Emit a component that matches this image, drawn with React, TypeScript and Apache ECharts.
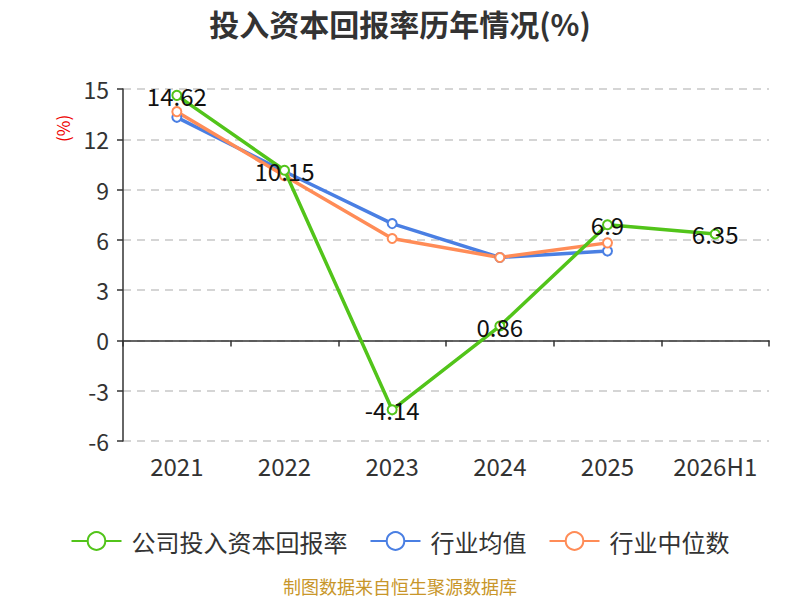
import { useEffect, useRef } from 'react';
import * as echarts from 'echarts';

const years = ['2021', '2022', '2023', '2024', '2025', '2026H1'];
const companyRoic = [14.62, 10.15, -4.14, 0.86, 6.9, 6.35];
const industryAvg = [13.31, 10.08, 6.97, 4.95, 5.33, null];
const industryMedian = [13.65, 9.82, 6.08, 4.95, 5.82, null];

const FONT = '"Noto Sans CJK SC", "Noto Sans", sans-serif';

export default function App() {
  const chartRef = useRef<HTMLDivElement>(null);

  useEffect(() => {
    if (!chartRef.current) return;
    const chart = echarts.init(chartRef.current, undefined, { renderer: 'svg' });

    const lineSeries = (name: string, data: any[], color: string, withLabel: boolean) => ({
      name,
      type: 'line',
      data,
      symbol: 'emptyCircle',
      symbolSize: 9,
      lineStyle: { width: 3.5, color },
      itemStyle: { color, borderWidth: 1.5 },
      label: withLabel
        ? { show: true, position: 'inside', color: '#111', fontSize: 24, fontFamily: FONT }
        : { show: false },
      z: withLabel ? 3 : 2,
    });

    chart.setOption({
      animation: false,
      backgroundColor: '#fff',
      textStyle: { fontFamily: FONT },
      title: {
        text: '投入资本回报率历年情况(%)',
        left: 'center',
        top: 3,
        textStyle: { fontSize: 30, fontWeight: 'bold', color: '#333', fontFamily: FONT },
      },
      legend: {
        top: 524,
        left: 'center',
        itemWidth: 50,
        itemHeight: 22,
        itemGap: 22,
        textStyle: { fontSize: 24, color: '#333', fontFamily: FONT, padding: [0, 0, 0, 5] },
        data: ['公司投入资本回报率', '行业均值', '行业中位数'],
      },
      graphic: [
        {
          type: 'text',
          left: 'center',
          top: 577,
          style: { text: '制图数据来自恒生聚源数据库', fill: '#c8962a', fontSize: 18, fontFamily: FONT },
        },
        {
          type: 'text',
          x: 54,
          y: 142,
          rotation: Math.PI / 2,
          style: { text: '(%)', fill: '#e00', fontSize: 17, fontFamily: FONT },
        },
      ],
      grid: { left: 123, right: 31, top: 89, bottom: 159 },
      xAxis: [
        {
          type: 'category',
          data: years,
          axisLine: { show: false, onZero: false },
          axisTick: { show: false },
          axisLabel: { interval: 0, fontSize: 24, color: '#333', margin: 12, fontFamily: FONT },
        },
        {
          type: 'category',
          data: years,
          position: 'bottom',
          axisLine: { show: true, onZero: true, lineStyle: { color: '#333', width: 1.5 } },
          axisTick: { show: true, interval: 0, length: 6, lineStyle: { color: '#333', width: 1.5 } },
          axisLabel: { show: false },
        },
      ],
      yAxis: {
        type: 'value',
        min: -6,
        max: 15,
        interval: 3,
        axisLine: { show: true, lineStyle: { color: '#333', width: 1.5 } },
        axisTick: { show: true, length: 6, lineStyle: { color: '#333', width: 1.5 } },
        axisLabel: { fontSize: 23, color: '#333', margin: 14, fontFamily: FONT },
        splitLine: { show: true, lineStyle: { type: [8, 6], color: '#c8c8c8', width: 1.5 } },
      },
      series: [
        lineSeries('公司投入资本回报率', companyRoic, '#52c41a', true),
        lineSeries('行业均值', industryAvg, '#4a7fe3', false),
        lineSeries('行业中位数', industryMedian, '#ff8c57', false),
      ],
    });

    return () => chart.dispose();
  }, []);

  return <div ref={chartRef} style={{ position: 'fixed', left: 0, top: 0, width: 800, height: 600 }} />;
}
